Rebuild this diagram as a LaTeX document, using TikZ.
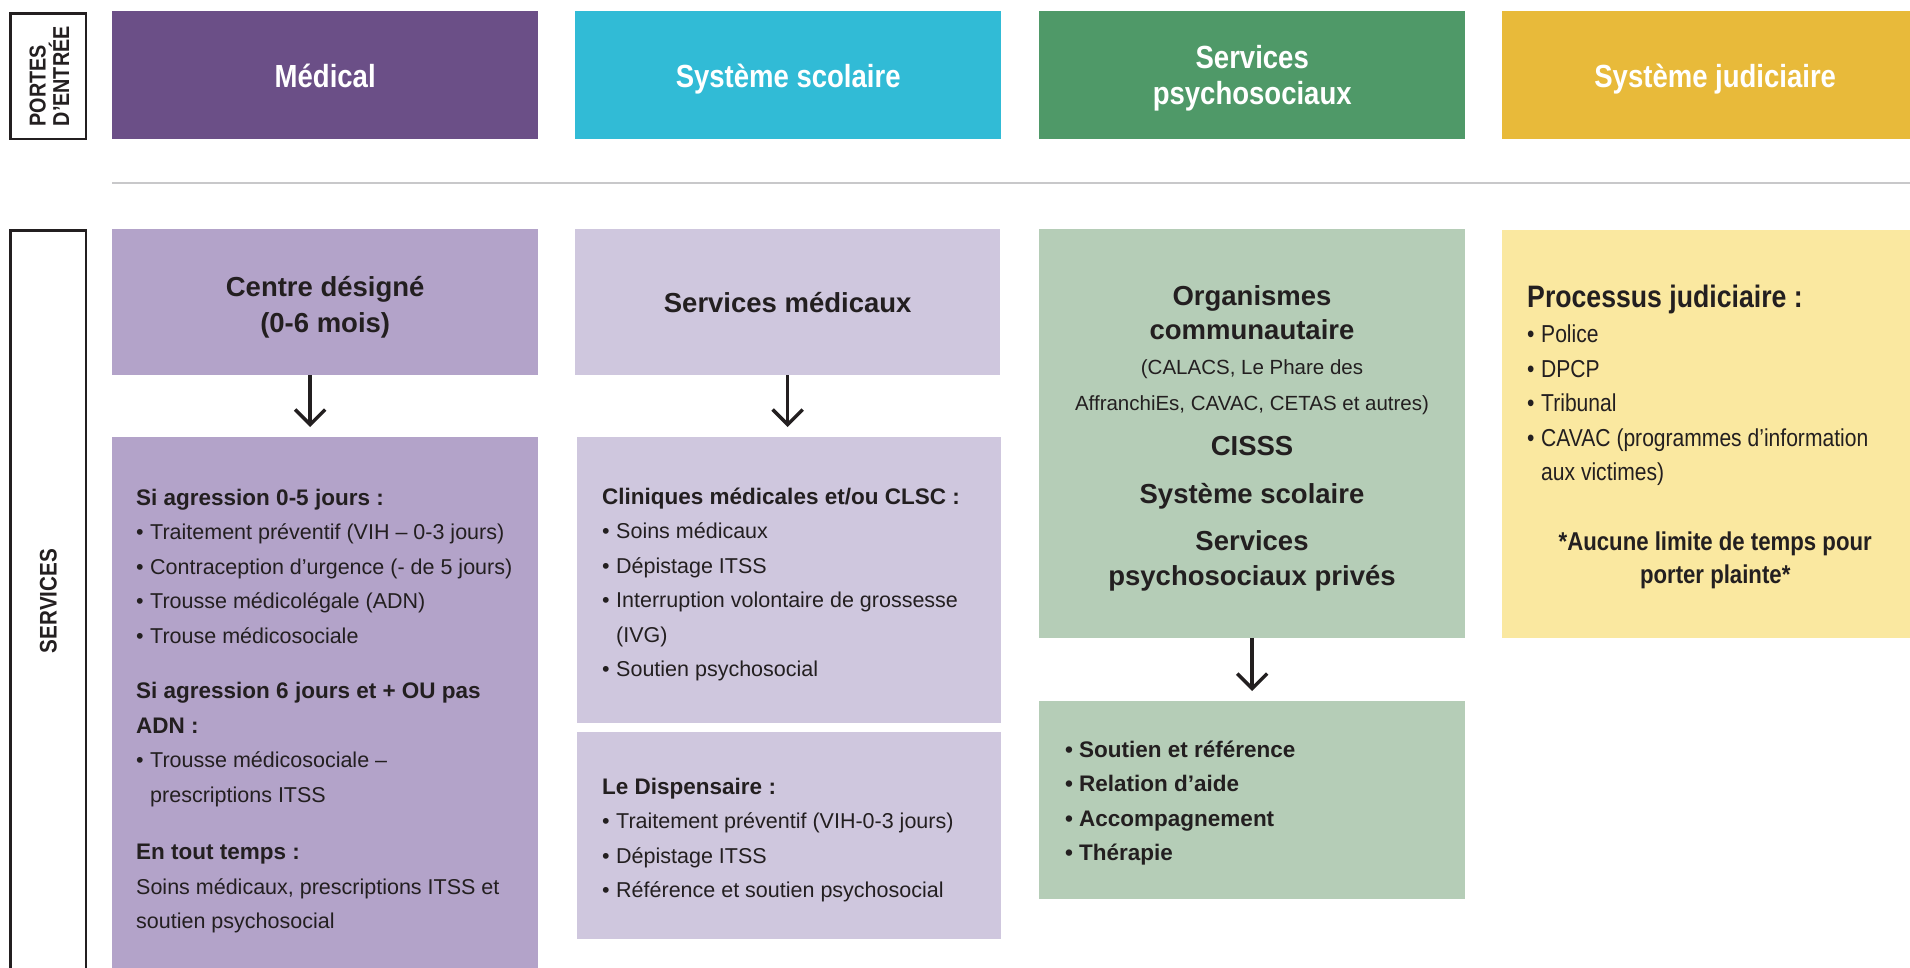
\documentclass[tikz,border=0pt]{standalone}
\usepackage{fontspec}
\setmainfont{Liberation Sans}
\newfontfamily\condfont[FakeStretch=0.86]{Liberation Sans}
\usetikzlibrary{arrows.meta,positioning}

\definecolor{hdrmed}{RGB}{107,79,135}
\definecolor{hdrscol}{RGB}{49,187,214}
\definecolor{hdrpsy}{RGB}{79,153,104}
\definecolor{hdrjud}{RGB}{232,186,58}
\definecolor{boxmed}{RGB}{179,163,201}
\definecolor{boxscol}{RGB}{207,199,222}
\definecolor{boxpsy}{RGB}{181,205,183}
\definecolor{boxjud}{RGB}{250,232,160}
\definecolor{sepgray}{RGB}{200,200,202}
\definecolor{ink}{RGB}{35,31,32}

\newcommand{\puce}{\makebox[14pt][l]{•}}
\newcommand{\retrait}{\hspace*{14pt}}
\newcommand{\titre}[1]{{\bfseries\fontsize{22.5}{34.5}\selectfont #1}}

\begin{document}
\begin{tikzpicture}[x=1pt, y=-1pt,
    hdr/.style={rectangle, inner sep=0pt, anchor=north west, minimum width=426pt,
      minimum height=128pt, text=white, align=flush center, text width=420pt,
      text height=30pt, text depth=6pt,
      font=\condfont\bfseries\fontsize{32}{36}\selectfont},
    sidebox/.style={rectangle, draw=ink, line width=2.5pt, inner sep=0pt,
      anchor=north west, minimum width=75.5pt},
    panel/.style={rectangle, inner sep=0pt, anchor=north west, minimum width=426pt,
      text=ink, align=flush center, font=\bfseries\fontsize{27.5}{36}\selectfont},
    listtxt/.style={inner sep=0pt, text=ink, align=flush left, text width=#1,
      anchor=base west, font=\fontsize{21.5}{34.5}\selectfont},
    flow/.style={-{Straight Barb[length=15pt,width=30pt]}, line width=3.5pt,
      draw=ink, shorten >=10pt}]
  \path[use as bounding box, fill=white] (0,0) rectangle (1910,967);

  % portes d'entree
  \node[sidebox, minimum height=125.5pt] (portes) at (9.25,12.25) {};
  \node[rotate=90, align=flush left, inner sep=0pt, text=ink,
        font=\condfont\bfseries\fontsize{23}{23.5}\selectfont] (portestxt)
        at ([xshift=1pt]portes.center) {PORTES\\D’ENTRÉE};
  \node[hdr, fill=hdrmed]  (med)  at (112,11)  {Médical};
  \node[hdr, fill=hdrscol] (scol) at (575,11)  {Système scolaire};
  \node[hdr, fill=hdrpsy, text height=24pt, text depth=38pt] (psy) at (1039,11)
        {Services\\psychosociaux};
  \node[hdr, fill=hdrjud]  (jud)  at (1502,11) {Système judiciaire};

  % separator
  \draw[sepgray, line width=2.7pt] (112,183) -- (1910,183);

  % services
  \node[sidebox, minimum height=760pt] (serv) at (9.25,229.25) {};
  \node[rotate=90, inner sep=0pt, text=ink,
        font=\condfont\bfseries\fontsize{24}{26}\selectfont] (servtxt)
        at (serv.north |- 0,601) {SERVICES};

  % medical column
  \node[panel, fill=boxmed, minimum height=146pt, text width=420pt,
        text height=24pt, text depth=36pt] (desig) at (112,229)
        {Centre désigné\\(0-6 mois)};
  \node[panel, fill=boxmed, minimum height=560pt] (agres) at (112,437) {};
  \node[listtxt=395pt] (agrestxt) at (136,505) {%
    \titre{Si agression 0-5 jours :}\\
    \puce Traitement préventif (VIH – 0-3 jours)\\
    \puce Contraception d’urgence (- de 5 jours)\\
    \puce Trousse médicolégale (ADN)\\
    \puce Trouse médicosociale\\[21pt]
    \titre{Si agression 6 jours et + OU pas}\\
    \titre{ADN :}\\
    \puce Trousse médicosociale –\\
    \retrait prescriptions ITSS\\[23pt]
    \titre{En tout temps :}\\
    Soins médicaux, prescriptions ITSS et\\
    soutien psychosocial};
  \coordinate (a1) at ([xshift=-15pt]desig.south);
  \draw[flow] (a1) -- (a1 |- agres.north);

  % school column
  \node[panel, fill=boxscol, minimum width=425pt, minimum height=146pt] (smed)
        at (575,229) {Services médicaux};
  \node[panel, fill=boxscol, minimum width=424pt, minimum height=285.5pt] (clin)
        at (577,437) {};
  \node[listtxt=390pt] (clintxt) at (602,504) {%
    \titre{Cliniques médicales et/ou CLSC :}\\
    \puce Soins médicaux\\
    \puce Dépistage ITSS\\
    \puce Interruption volontaire de grossesse\\
    \retrait (IVG)\\
    \puce Soutien psychosocial};
  \node[panel, fill=boxscol, minimum width=424pt, minimum height=207pt] (disp)
        at (577,732) {};
  \node[listtxt=390pt] (disptxt) at (602,794) {%
    \titre{Le Dispensaire :}\\
    \puce Traitement préventif (VIH-0-3 jours)\\
    \puce Dépistage ITSS\\
    \puce Référence et soutien psychosocial};
  \draw[flow] (smed.south) -- (smed.south |- clin.north);

  % psychosocial column
  \node[panel, fill=boxpsy, minimum height=408.5pt] (orga) at (1039,229) {};
  \node[inner sep=0pt, text=ink, align=flush center, text width=420pt, anchor=base,
        font=\bfseries\fontsize{27.5}{34.5}\selectfont] (orgatxt) at (1252,305)
        {Organismes\\communautaire\\
         {\mdseries\fontsize{20.5}{34.5}\selectfont (CALACS, Le Phare des\\[2pt]
          AffranchiEs, CAVAC, CETAS et autres)}\\[10pt]
         CISSS\\[13.5pt]
         Système scolaire\\[13pt]
         Services\\psychosociaux privés};
  \node[panel, fill=boxpsy, minimum height=198pt] (aide) at (1039,701) {};
  \node[listtxt=380pt, font=\bfseries\fontsize{22.5}{34.6}\selectfont] (aidetxt)
        at (1065,757) {%
    \puce Soutien et référence\\
    \puce Relation d’aide\\
    \puce Accompagnement\\
    \puce Thérapie};
  \draw[flow] (orga.south) -- (aide.north);

  % judicial column
  \node[panel, fill=boxjud, minimum height=408pt] (proc) at (1502,230) {};
  \node[listtxt=380pt, font=\condfont\fontsize{24.5}{34.5}\selectfont] (proctxt)
        at (1527,307) {%
    {\bfseries\fontsize{31}{34.5}\selectfont Processus judiciaire :}\\[1pt]
    \puce Police\\
    \puce DPCP\\
    \puce Tribunal\\
    \puce CAVAC (programmes d’information\\
    \retrait aux victimes)};
  \node[inner sep=0pt, text=ink, align=flush center, text width=400pt, anchor=base,
        font=\condfont\bfseries\fontsize{25.8}{33}\selectfont] (plainte)
        at (proc.center |- 0,550) {*Aucune limite de temps pour\\porter plainte*};
\end{tikzpicture}
\end{document}
